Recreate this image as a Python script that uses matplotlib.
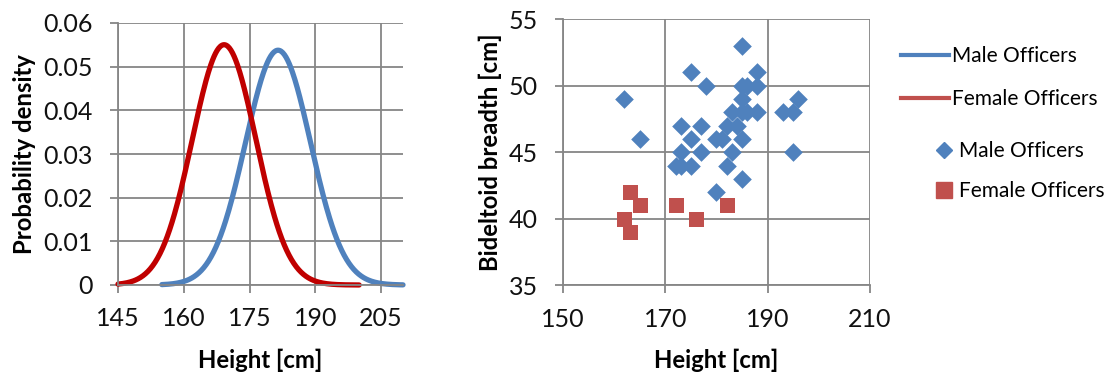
import numpy as np
import matplotlib
matplotlib.use("Agg")
import matplotlib.pyplot as plt
from matplotlib.lines import Line2D

plt.rcParams['font.family'] = ['Lato', 'DejaVu Sans']

# Scatter data (height [cm], bideltoid breadth [cm])
male_height = [185, 175, 188, 178, 185, 186, 188, 162, 185, 196, 183, 185, 186, 188,
               193, 195, 173, 177, 182, 184, 165, 175, 180, 181, 185, 173, 177, 183,
               195, 172, 173, 175, 182, 185, 180]
male_breadth = [53, 51, 51, 50, 50, 50, 50, 49, 49, 49, 48, 48, 48, 48,
                48, 48, 47, 47, 47, 47, 46, 46, 46, 46, 46, 45, 45, 45,
                45, 44, 44, 44, 44, 43, 42]
female_height = [163, 165, 172, 182, 162, 176, 163]
female_breadth = [42, 41, 41, 41, 40, 40, 39]

# Normal density parameters (mean, sd) and their x ranges
male_mean, male_sd = 181.5, 7.42
female_mean, female_sd = 169.2, 7.25
male_range = (155, 210)
female_range = (145, 200)

left_xticks = [145, 160, 175, 190, 205]
left_yticks = [0, 0.01, 0.02, 0.03, 0.04, 0.05, 0.06]
left_yticklabels = ['0', '0.01', '0.02', '0.03', '0.04', '0.05', '0.06']
right_xticks = [150, 170, 190, 210]
right_yticks = [35, 40, 45, 50, 55]

C_MALE = '#4F81BD'
C_FEMALE_LINE = '#C00000'
C_FEMALE_MK = '#C0504D'
GRID = '#868686'
TICK_FS = 18
LABEL_FS = 17.2


def normal_pdf(mu, sd, lo, hi):
    x = np.linspace(lo, hi, 300)
    return x, np.exp(-0.5 * ((x - mu) / sd) ** 2) / (sd * np.sqrt(2 * np.pi))


fig = plt.figure(figsize=(11.12, 3.74), dpi=100)


def style(ax):
    for s in ['top', 'right']:
        ax.spines[s].set_visible(False)
    for s in ['left', 'bottom']:
        ax.spines[s].set_color(GRID)
        ax.spines[s].set_linewidth(1.3)
    ax.grid(True, color=GRID, linewidth=1.3)
    ax.set_axisbelow(True)
    ax.tick_params(colors=GRID, labelcolor='#111111', labelsize=TICK_FS, length=6, width=1.3)
    ax.tick_params(axis='y', pad=12)
    ax.tick_params(axis='x', pad=10)


ax1 = fig.add_axes([118 / 1112, 1 - 285 / 374, 285 / 1112, 262 / 374])
style(ax1)
xm, ym = normal_pdf(male_mean, male_sd, *male_range)
xf, yf = normal_pdf(female_mean, female_sd, *female_range)
ax1.plot(xm, ym, color=C_MALE, lw=3.8, solid_capstyle='round', clip_on=False)
ax1.plot(xf, yf, color=C_FEMALE_LINE, lw=3.8, solid_capstyle='round', clip_on=False)
ax1.set_xlim(145, 210)
ax1.set_ylim(0, 0.06)
ax1.set_xticks(left_xticks)
ax1.set_yticks(left_yticks)
ax1.set_yticklabels(left_yticklabels)
ax1.set_xlabel('Height [cm]', fontsize=LABEL_FS, fontweight='bold', va='center')
ax1.set_ylabel('Probability density', fontsize=LABEL_FS, fontweight='bold', va='center')
ax1.xaxis.set_label_coords(0.5, (285 - 360) / 262)
ax1.yaxis.set_label_coords((25 - 118) / 285, 0.5)

ax2 = fig.add_axes([563 / 1112, 1 - 285.3 / 374, 307 / 1112, 266 / 374])
style(ax2)
ax2.scatter(male_height, male_breadth, marker='D', s=9.5 ** 2, color=C_MALE, linewidths=0, zorder=3)
ax2.scatter(female_height, female_breadth, marker='s', s=10.8 ** 2, color=C_FEMALE_MK, linewidths=0, zorder=3)
ax2.set_xlim(150, 210)
ax2.set_ylim(35, 55)
ax2.set_xticks(right_xticks)
ax2.set_yticks(right_yticks)
ax2.set_xlabel('Height [cm]', fontsize=LABEL_FS, fontweight='bold', va='center')
ax2.set_ylabel('Bideltoid breadth [cm]', fontsize=LABEL_FS, fontweight='bold', va='center')
ax2.xaxis.set_label_coords(0.5, (285.3 - 360) / 266)
ax2.yaxis.set_label_coords((490 - 563) / 307, 0.5)

h_lines = [Line2D([], [], color=C_MALE, lw=3),
           Line2D([], [], color=C_FEMALE_MK, lw=3)]
leg1 = fig.legend(h_lines, ['Male Officers', 'Female Officers'], loc='upper left',
                  bbox_to_anchor=(893 / 1112, 1 - 38 / 374), frameon=False, fontsize=15,
                  handlelength=2.3, handletextpad=0.15, labelspacing=1.1, borderaxespad=0)
h_mk = [Line2D([], [], color=C_MALE, marker='D', ls='none', markersize=8),
        Line2D([], [], color=C_FEMALE_MK, marker='s', ls='none', markersize=11)]
leg2 = fig.legend(h_mk, ['Male Officers', 'Female Officers'], loc='upper left',
                  bbox_to_anchor=(925 / 1112, 1 - 133 / 374), frameon=False, fontsize=15,
                  handlelength=1.0, handletextpad=0.25, labelspacing=0.95, borderaxespad=0)

fig.savefig('out.png', dpi=100)
